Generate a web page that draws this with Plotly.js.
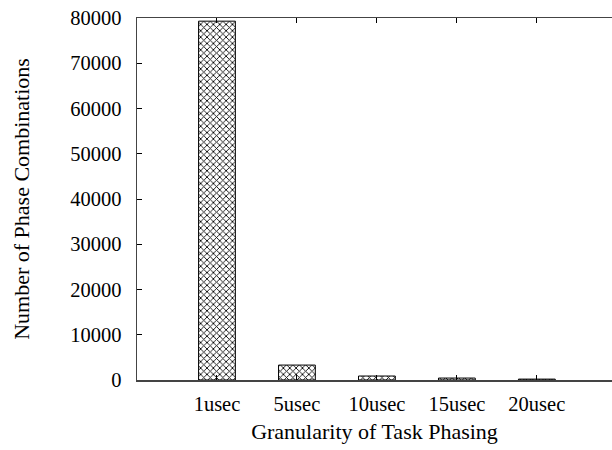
<!DOCTYPE html>
<html>
<head>
<meta charset="utf-8">
<script src="https://cdn.plot.ly/plotly-3.0.1.min.js"></script>
<style>html,body{margin:0;padding:0;background:#fff;}#chart{width:612px;height:450px;}</style>
</head>
<body>
<div id="chart"></div>
<script>
const categories = ["1usec", "5usec", "10usec", "15usec", "20usec"];
const phaseCombinations = [79300, 3300, 880, 430, 200];
const yTicks = [0, 10000, 20000, 30000, 40000, 50000, 60000, 70000, 80000];

const positions = categories.map((c, i) => i);

const trace = {
  type: "bar",
  x: positions,
  y: phaseCombinations,
  width: 0.46,
  marker: {
    color: "#ffffff",
    line: {color: "#000000", width: 1},
    pattern: {shape: "x", size: 4.5, solidity: 0.35, fgcolor: "#000000", bgcolor: "#ffffff", fillmode: "replace"}
  },
  hoverinfo: "skip"
};

const tickFont = {family: "Liberation Serif, Times New Roman, serif", size: 20.5, color: "#000"};
const titleFont = {family: "Liberation Serif, Times New Roman, serif", size: 22, color: "#000"};

const layout = {
  width: 612, height: 450,
  margin: {l: 137, r: 0, t: 18, b: 70},
  paper_bgcolor: "#fff", plot_bgcolor: "#fff",
  showlegend: false,
  font: tickFont,
  xaxis: {
    range: [-1, 4.94],
    tickvals: positions,
    ticktext: categories,
    tickfont: tickFont,
    ticks: "inside", ticklen: 5, tickcolor: "#000", tickwidth: 1,
    showline: true, linecolor: "#444", linewidth: 1.5,
    mirror: "ticks",
    showgrid: false, zeroline: false,
    ticklabelstandoff: 5,
    title: {text: "Granularity of Task Phasing", font: titleFont, standoff: 9}
  },
  yaxis: {
    range: [0, 80000],
    tickvals: yTicks,
    ticktext: yTicks.map(String),
    tickfont: tickFont,
    ticks: "inside", ticklen: 5, tickcolor: "#000", tickwidth: 1,
    showline: true, linecolor: "#444", linewidth: 1.5,
    showgrid: false, zeroline: false,
    ticklabelstandoff: 10,
    title: {text: "Number of Phase Combinations", font: titleFont, standoff: 34}
  }
};

Plotly.newPlot("chart", [trace], layout, {staticPlot: true, displayModeBar: false});
</script>
</body>
</html>
